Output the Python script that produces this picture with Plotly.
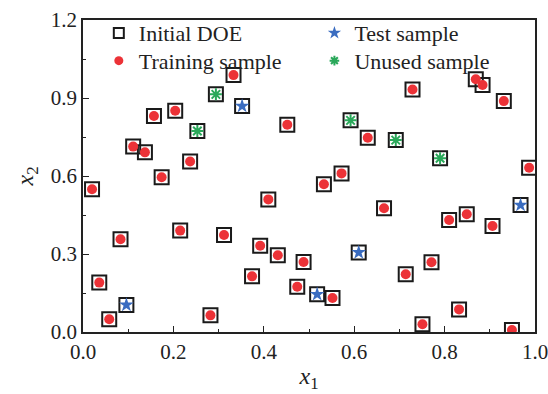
import plotly.graph_objects as go

train_x1 = [0.020, 0.036, 0.058, 0.083, 0.111, 0.137, 0.157, 0.174, 0.204, 0.215, 0.237, 0.282, 0.312,
            0.333, 0.374, 0.392, 0.410, 0.431, 0.452, 0.474, 0.488, 0.533, 0.552, 0.572, 0.630, 0.666,
            0.714, 0.729, 0.751, 0.771, 0.810, 0.832, 0.849, 0.869, 0.884, 0.906, 0.931, 0.949, 0.987]
train_x2 = [0.549, 0.190, 0.049, 0.357, 0.713, 0.691, 0.831, 0.595, 0.851, 0.390, 0.656, 0.064, 0.373,
            0.988, 0.214, 0.332, 0.510, 0.295, 0.797, 0.174, 0.269, 0.568, 0.131, 0.610, 0.747, 0.476,
            0.222, 0.933, 0.030, 0.268, 0.431, 0.087, 0.453, 0.972, 0.950, 0.408, 0.888, 0.008, 0.632]
test_x1 = [0.096, 0.352, 0.518, 0.610, 0.968]
test_x2 = [0.104, 0.869, 0.145, 0.306, 0.488]
unused_x1 = [0.253, 0.294, 0.592, 0.692, 0.790]
unused_x2 = [0.773, 0.914, 0.814, 0.738, 0.668]

doe_x1 = train_x1 + test_x1 + unused_x1
doe_x2 = train_x2 + test_x2 + unused_x2

FONT = "Times New Roman"
RED, BLUE, GREEN, BLACK = "#ec3237", "#3a6cc0", "#2aa85a", "#1a1a1a"

fig = go.Figure()
# plotted marks (no legend)
fig.add_trace(go.Scatter(x=doe_x1, y=doe_x2, mode="markers", showlegend=False,
                         marker=dict(symbol="square-open", size=14, color=BLACK,
                                     line=dict(width=2, color=BLACK))))
fig.add_trace(go.Scatter(x=train_x1, y=train_x2, mode="markers", showlegend=False,
                         marker=dict(symbol="circle", size=10, color=RED)))
fig.add_trace(go.Scatter(x=test_x1, y=test_x2, mode="markers", showlegend=False,
                         marker=dict(symbol="star", size=11, color=BLUE)))
fig.add_trace(go.Scatter(x=unused_x1, y=unused_x2, mode="markers", showlegend=False,
                         marker=dict(symbol="asterisk-open", size=10, color=GREEN,
                                     line=dict(width=2, color=GREEN))))
# legend entries
fig.add_trace(go.Scatter(x=[None], y=[None], mode="markers", name="Initial DOE", legend="legend",
                         marker=dict(symbol="square-open", size=10, color=BLACK,
                                     line=dict(width=2, color=BLACK))))
fig.add_trace(go.Scatter(x=[None], y=[None], mode="markers", name="Training sample", legend="legend2",
                         marker=dict(symbol="circle", size=9, color=RED)))
fig.add_trace(go.Scatter(x=[None], y=[None], mode="markers", name="Test sample", legend="legend3",
                         marker=dict(symbol="star", size=10, color=BLUE)))
fig.add_trace(go.Scatter(x=[None], y=[None], mode="markers", name="Unused sample", legend="legend4",
                         marker=dict(symbol="asterisk-open", size=8, color=GREEN,
                                     line=dict(width=2, color=GREEN))))

leg_common = dict(font=dict(family=FONT, size=22, color="#222"), bgcolor="rgba(0,0,0,0)",
                  yanchor="middle", xanchor="left", itemsizing="trace")
fig.update_layout(
    width=548, height=394,
    margin=dict(l=83, r=13, t=20, b=62),
    paper_bgcolor="white", plot_bgcolor="white",
    font=dict(family=FONT, size=21, color="#222"),
    showlegend=True,
    legend=dict(x=0.035, y=0.958, **leg_common),
    legend2=dict(x=0.035, y=0.869, **leg_common),
    legend3=dict(x=0.512, y=0.958, **leg_common),
    legend4=dict(x=0.512, y=0.869, **leg_common),
    xaxis=dict(range=[0, 1.0], dtick=0.2, tickformat=".1f", showgrid=False, zeroline=False,
               showline=True, linecolor="#222", linewidth=1.5, mirror=True, automargin=False,
               ticklabeloverflow="allow",
               ticks="inside", ticklen=6, tickwidth=1.3, tickcolor="#222",
               minor=dict(ticks="inside", dtick=0.1, ticklen=3, tickwidth=1.1, tickcolor="#222"),
               title=dict(text="<i>x</i><sub>1</sub>", font=dict(size=24), standoff=4)),
    yaxis=dict(range=[0, 1.2], dtick=0.3, tickformat=".1f", showgrid=False, zeroline=False,
               showline=True, linecolor="#222", linewidth=1.5, mirror=True, automargin=False,
               ticklabeloverflow="allow",
               ticks="inside", ticklen=6, tickwidth=1.3, tickcolor="#222",
               minor=dict(ticks="inside", dtick=0.15, ticklen=3, tickwidth=1.1, tickcolor="#222"),
               title=dict(text="<i>x</i><sub>2</sub>", font=dict(size=24), standoff=10)),
)
fig.write_html("out.html")
